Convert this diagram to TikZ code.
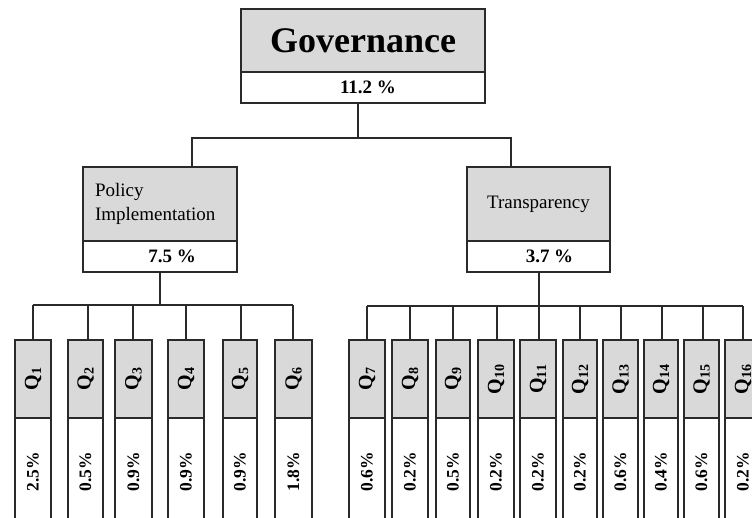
\documentclass[tikz,border=0pt]{standalone}
\usepackage{fontspec}
\setmainfont{Liberation Serif}
\definecolor{cellgray}{HTML}{D9D9D9}
\definecolor{inkline}{HTML}{2A2A2A}
\begin{document}
\begin{tikzpicture}[x=1pt,y=-1pt,
  boxline/.style={draw=inkline,line width=1.8pt,rectangle,inner sep=0pt},
  headcell/.style={boxline,fill=cellgray},
  valcell/.style={boxline,fill=white},
  link/.style={draw=inkline,line width=1.5pt},
  qlabel/.style={font=\bfseries\fontsize{20}{22}\selectfont},
  qvalue/.style={font=\bfseries\fontsize{17.5}{19}\selectfont}]
\useasboundingbox (0,0) rectangle (752,518);
\begin{scope}
\clip (0,0) rectangle (752,518);

% root
\node[headcell,minimum width=244pt,minimum height=63pt,
      font=\bfseries\fontsize{36}{40}\selectfont] (govT) at (363,40.5) {Governance};
\node[valcell,minimum width=244pt,minimum height=31pt,
      font=\bfseries\fontsize{19}{21}\selectfont] (govB) at (363,87.5) {\hspace*{10pt}11.2 \%};

% second level
\node[headcell,minimum width=154pt,minimum height=74pt,text width=130pt,
      inner xsep=12pt,align=left,font=\fontsize{19}{24}\selectfont] (polT) at (160,204)
      {Policy\\Implementation};
\node[valcell,minimum width=154pt,minimum height=31pt,
      font=\bfseries\fontsize{19}{21}\selectfont] (polB) at (160,256.5) {\hspace*{24pt}7.5 \%};
\node[headcell,minimum width=143pt,minimum height=74pt,
      font=\fontsize{19}{21}\selectfont] (trT) at (538.5,204) {Transparency};
\node[valcell,minimum width=143pt,minimum height=31pt,
      font=\bfseries\fontsize{19}{21}\selectfont] (trB) at (538.5,256.5) {\hspace*{22pt}3.7 \%};

% links from the root
\coordinate (jm) at (358,138);
\coordinate (jl) at (192,138);
\coordinate (jr) at (511,138);
\draw[link] (govB.south -| jm) -- (jm);
\draw[link] (jl |- polT.north) -- (jl) -- (jr) -- (jr |- trT.north);

% question cells: number / left / right / stub x / bus y / weight
\foreach \n/\l/\r/\s/\b/\p in {
  1/15/51/33/305/2.5, 2/68/103/88/305/0.5, 3/115/152/133/305/0.9,
  4/168/204/186/305/0.9, 5/223/257/241/305/0.9, 6/275/312/293/305/1.8,
  7/349/385/367/306/0.6, 8/392/428/410/306/0.2, 9/436/470/453/306/0.5,
  10/478/514/497/306/0.2, 11/520/556/539/306/0.2, 12/563/597/580/306/0.2,
  13/603/638/621/306/0.6, 14/644/678/662/306/0.4, 15/684/719/703/306/0.6,
  16/725/761/743/306/0.2}{
  \pgfmathsetmacro\cx{(\l+\r)/2}
  \pgfmathsetmacro\w{\r-\l}
  \node[headcell,qlabel,minimum width=\w pt,minimum height=78pt] (qt\n) at (\cx,379)
       {\rotatebox{90}{Q\textsubscript{\n}}};
  \node[valcell,qvalue,minimum width=\w pt,minimum height=108pt] (qb\n) at (\cx,472)
       {\rotatebox{90}{\p\%}};
  \coordinate (s\n) at (\s,\b);
  \draw[link] (s\n) -- (s\n |- qt\n.north);
}

% buses for the question groups
\draw[link] (s1) -- (s6);
\draw[link] (polB.south) -- (polB.south |- s1);
\draw[link] (s7) -- (s16);
\draw[link] (trB.south -| s11) -- (s11);
\end{scope}
\end{tikzpicture}
\end{document}
